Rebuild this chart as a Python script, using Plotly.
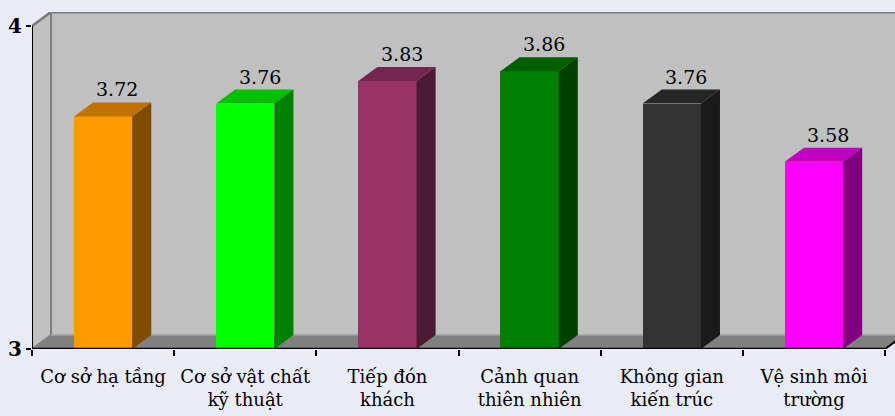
import plotly.graph_objects as go

# Survey scores by criterion
categories = ["Cơ sở hạ tầng", "Cơ sở vật chất<br>kỹ thuật", "Tiếp đón<br>khách",
              "Cảnh quan<br>thiên nhiên", "Không gian<br>kiến trúc", "Vệ sinh môi<br>trường"]
values = [3.72, 3.76, 3.83, 3.86, 3.76, 3.58]
y_ticks = [3, 4]

# face colours: front, top, side
front_colors = ["#FF9900", "#00FF00", "#993366", "#008000", "#333333", "#FF00FF"]
top_colors = ["#C07300", "#00C000", "#732650", "#006000", "#262626", "#C000C0"]
side_colors = ["#7F4C00", "#008000", "#4C1A33", "#004000", "#1A1A1A", "#800080"]

Y0, Y1 = 3.0, 4.0
DX = 0.134      # depth offset along x (category units)
DY = 0.0433     # depth offset along y (value units)
BW = 0.41       # bar width
X_LEFT = -0.5
X_RIGHT = len(categories) - 0.5
X_MAX = 5.57

FONT = "DejaVu Serif"
xs = list(range(len(categories)))

fig = go.Figure()

shapes = []
# left side wall
shapes.append(dict(type="path", layer="below",
                   path=f"M {X_LEFT},{Y0} L {X_LEFT+DX},{Y0+DY} L {X_LEFT+DX},{Y1+DY} L {X_LEFT},{Y1} Z",
                   fillcolor="#C0C0C0", line=dict(color="#808080", width=2)))
# back wall
shapes.append(dict(type="rect", layer="below", x0=X_LEFT+DX, x1=X_MAX+0.05, y0=Y0+DY, y1=Y1+DY,
                   fillcolor="#C0C0C0", line=dict(width=0)))
shapes.append(dict(type="line", layer="below", x0=X_LEFT+DX, x1=X_MAX+0.05, y0=Y1+DY, y1=Y1+DY,
                   line=dict(color="#7A7A7A", width=3)))
shapes.append(dict(type="line", layer="below", x0=X_LEFT+DX, x1=X_LEFT+DX, y0=Y0+DY, y1=Y1+DY,
                   line=dict(color="#808080", width=2)))
# floor
shapes.append(dict(type="path", layer="below",
                   path=f"M {X_LEFT},{Y0} L {X_RIGHT},{Y0} L {X_RIGHT+DX},{Y0+DY} L {X_LEFT+DX},{Y0+DY} Z",
                   fillcolor="#808080", line=dict(width=0)))
shapes.append(dict(type="line", layer="below", x0=X_LEFT+DX, x1=X_RIGHT+DX, y0=Y0+DY, y1=Y0+DY,
                   line=dict(color="#A0A0A0", width=1.5)))

# top and side faces of each bar
for i, v in enumerate(values):
    xl, xr = i - BW / 2, i + BW / 2
    shapes.append(dict(type="path", layer="above",
                       path=f"M {xl},{v} L {xl+DX},{v+DY} L {xr+DX},{v+DY} L {xr},{v} Z",
                       fillcolor=top_colors[i], line=dict(width=0)))
    shapes.append(dict(type="path", layer="above",
                       path=f"M {xr},{Y0} L {xr},{v} L {xr+DX},{v+DY} L {xr+DX},{Y0+DY} Z",
                       fillcolor=side_colors[i], line=dict(width=0)))

# axis lines
shapes.append(dict(type="line", layer="above", x0=X_LEFT, x1=X_LEFT, y0=Y0, y1=Y1,
                   line=dict(color="black", width=2)))
shapes.append(dict(type="line", layer="above", x0=X_LEFT, x1=X_RIGHT, y0=Y0, y1=Y0,
                   line=dict(color="black", width=2.5)))
shapes.append(dict(type="line", layer="above", x0=X_RIGHT, x1=X_RIGHT+DX*0.6, y0=Y0, y1=Y0+DY*0.6,
                   line=dict(color="black", width=2)))
shapes.append(dict(type="line", layer="below", x0=X_LEFT, x1=X_LEFT+DX, y0=Y1, y1=Y1+DY,
                   line=dict(color="#7A7A7A", width=2.5)))

# front faces of bars
fig.add_trace(go.Bar(
    x=xs, y=[v - Y0 for v in values], base=Y0, width=BW,
    marker=dict(color=front_colors, line=dict(width=0)),
    hoverinfo="skip",
))

annotations = []
for i, v in enumerate(values):
    annotations.append(dict(x=i + DX * 0.75, y=v + DY, text=f"{v:.2f}", showarrow=False,
                            xanchor="center", yanchor="bottom", yshift=0,
                            font=dict(family=FONT, size=19, color="black")))

fig.update_layout(
    width=895, height=416,
    margin=dict(l=32, r=0, t=12, b=67),
    font=dict(family=FONT),
    paper_bgcolor="#E9EBF6",
    plot_bgcolor="#E9EBF6",
    showlegend=False,
    bargap=0,
    shapes=shapes,
    annotations=annotations,
    xaxis=dict(
        range=[X_LEFT, X_MAX], tickmode="array", tickvals=xs, ticktext=categories,
        ticks="", showgrid=False, zeroline=False, showline=False,
        ticklabelstandoff=15,
        tickfont=dict(family=FONT, size=18, color="black"),
        minor=dict(tickmode="linear", tick0=X_LEFT, dtick=1, ticks="outside",
                   ticklen=6, tickwidth=2, tickcolor="black", showgrid=False),
    ),
    yaxis=dict(
        range=[Y0, Y1 + DY], tickmode="array", tickvals=y_ticks,
        ticktext=[f"<b>{t}</b>" for t in y_ticks],
        ticks="outside", ticklen=5, tickwidth=2, tickcolor="black",
        showgrid=False, zeroline=False, showline=False,
        tickfont=dict(family=FONT, size=20, color="black"),
    ),
)

fig.write_html("out.html")
